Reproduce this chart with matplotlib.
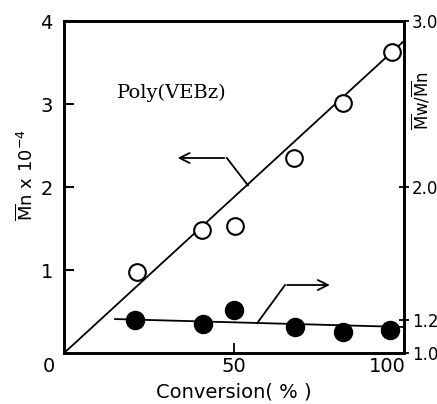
import matplotlib
matplotlib.use("Agg")
import matplotlib.pyplot as plt

# open circles: Mn x 10^-4 vs conversion
conv_mn = [21.5, 40.5, 50.3, 67.6, 82.0, 96.5]
mn = [0.98, 1.48, 1.53, 2.35, 3.01, 3.63]
# fitted line for Mn (through origin)
fit_mn_x = [0, 100]
fit_mn_y = [0, 3.76]

# filled circles: Mw/Mn vs conversion
conv_pd = [21.0, 40.9, 50.0, 68.0, 82.0, 96.0]
pd_vals = [1.20, 1.175, 1.26, 1.157, 1.13, 1.14]
fit_pd_x = [15, 100]
fit_pd_y = [1.205, 1.157]

left_ticks = [1, 2, 3, 4]
right_ticks = [1.0, 1.2, 2.0, 3.0]
right_labels = ["1.0", "1.2", "2.0", "3.0"]

fig = plt.figure(figsize=(4.37, 4.04), dpi=100)
ax = fig.add_axes([0.1465, 0.126, 0.778, 0.822])

ax.plot(fit_mn_x, fit_mn_y, color="black", lw=1.3)
ax.plot(conv_mn, mn, "o", ms=12, mfc="white", mec="black", mew=1.5)
ax.set_xlim(0, 100)
ax.set_ylim(0, 4)

for s in ax.spines.values():
    s.set_linewidth(1.9)

ax.set_xticks([50])
ax.set_xticklabels(["50"], fontsize=14)
ax.tick_params(axis="x", direction="in", length=7, width=1.3, pad=3)
ax.set_yticks(left_ticks)
ax.set_yticklabels([str(t) for t in left_ticks], fontsize=14)
ax.tick_params(axis="y", direction="in", length=7, width=1.5, pad=8)
ax.text(-4.5, -0.05, "0", fontsize=14, ha="center", va="top")
ax.text(95, -0.05, "100", fontsize=14, ha="center", va="top")
ax.text(50, -0.36, "Conversion( % )", fontsize=14, ha="center", va="top")
ax.text(-11, 2.15, r"$\overline{\rm M}$n x 10$^{-4}$", fontsize=13,
        rotation=90, ha="center", va="center")

# arrow pointing to left axis
ax.plot([54.1, 47.9], [2.02, 2.35], color="black", lw=1.3)
ax.annotate("", xy=(32.6, 2.35), xytext=(48.0, 2.35),
            arrowprops=dict(arrowstyle="->", lw=1.3, color="black",
                            mutation_scale=18))
ax.text(15.6, 3.14, "Poly(VEBz)", fontsize=14, family="DejaVu Serif",
        va="center")

ax2 = ax.twinx()
ax2.plot(fit_pd_x, fit_pd_y, color="black", lw=1.3)
ax2.plot(conv_pd, pd_vals, "o", ms=13, color="black")
ax2.set_ylim(1.0, 3.0)
ax2.set_yticks(right_ticks)
ax2.set_yticklabels(right_labels, fontsize=12)
ax2.tick_params(axis="y", direction="inout", length=7, width=1.3, pad=2)
for s in ax2.spines.values():
    s.set_linewidth(1.9)

# arrow pointing to right axis
ax2.plot([56.8, 65.0], [1.18, 1.41], color="black", lw=1.3)
ax2.annotate("", xy=(79.0, 1.41), xytext=(64.8, 1.41),
             arrowprops=dict(arrowstyle="->", lw=1.3, color="black",
                             mutation_scale=18))
ax2.text(105, 2.52, r"$\overline{\rm M}$w/$\overline{\rm M}$n", fontsize=12,
         rotation=90, ha="center", va="center")

plt.savefig("out.png", dpi=100)
